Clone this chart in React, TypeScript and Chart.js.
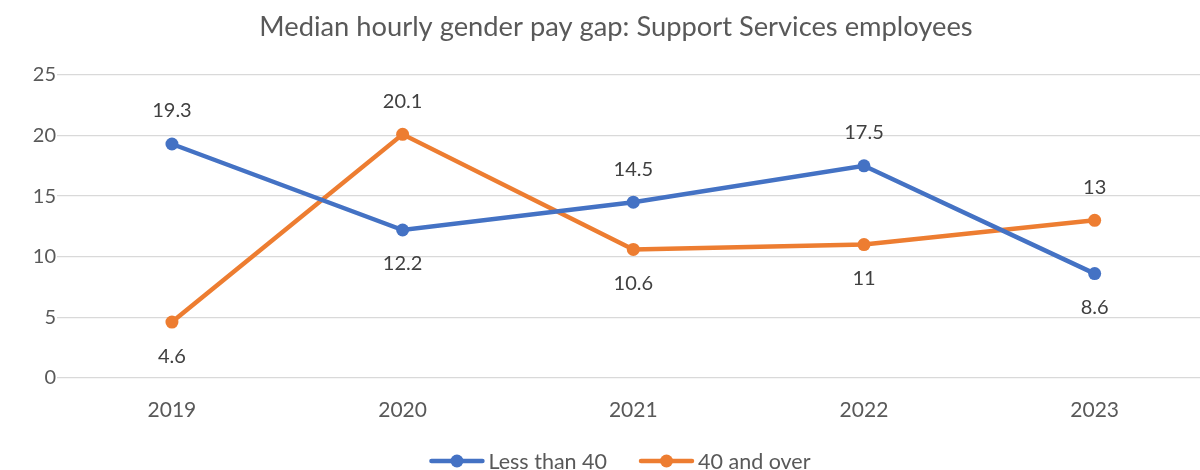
import React, { useEffect, useRef } from "react";
import { Chart, registerables } from "chart.js";

Chart.register(...registerables);

const years = ["2019", "2020", "2021", "2022", "2023"];
const lessThan40 = [19.3, 12.2, 14.5, 17.5, 8.6];
const fortyAndOver = [4.6, 20.1, 10.6, 11, 13];
const lessThan40LabelPos = ["above", "below", "above", "above", "below"];
const fortyAndOverLabelPos = ["below", "above", "below", "below", "above"];
const yTicks = [0, 5, 10, 15, 20, 25];

const FONT = "Lato, 'Liberation Sans', sans-serif";
const BLUE = "#4472C4";
const ORANGE = "#ED7D31";

const dataLabelPlugin = {
  id: "dataLabels",
  afterDatasetsDraw(chart: any) {
    const ctx = chart.ctx;
    ctx.save();
    ctx.font = `20px ${FONT}`;
    ctx.fillStyle = "#404040";
    ctx.textAlign = "center";
    ctx.textBaseline = "middle";
    chart.data.datasets.forEach((ds: any, i: number) => {
      const meta = chart.getDatasetMeta(i);
      meta.data.forEach((pt: any, j: number) => {
        const pos = ds.labelPos[j];
        const dy = pos === "above" ? -33 : 34;
        ctx.fillText(String(ds.data[j]), pt.x, pt.y + dy);
      });
    });
    ctx.restore();
  },
};

const legendPlugin = {
  id: "customLegend",
  afterDraw(chart: any) {
    const ctx = chart.ctx;
    ctx.save();
    ctx.font = `21.5px ${FONT}`;
    const lineW = 55;
    const gapText = 4;
    const gapItems = 32;
    const items = chart.data.datasets.map((ds: any) => ({
      label: ds.label,
      color: ds.borderColor,
      w: lineW + gapText + ctx.measureText(ds.label).width,
    }));
    const total = items.reduce((a: number, it: any) => a + it.w, 0) + gapItems * (items.length - 1);
    let x = 620 - total / 2;
    const y = 461;
    items.forEach((it: any) => {
      ctx.strokeStyle = it.color;
      ctx.lineWidth = 4.5;
      ctx.lineCap = "round";
      ctx.beginPath();
      ctx.moveTo(x + 2, y);
      ctx.lineTo(x + lineW - 2, y);
      ctx.stroke();
      ctx.fillStyle = it.color;
      ctx.beginPath();
      ctx.arc(x + lineW / 2, y, 6.5, 0, Math.PI * 2);
      ctx.fill();
      ctx.fillStyle = "#595959";
      ctx.textAlign = "left";
      ctx.textBaseline = "middle";
      ctx.fillText(it.label, x + lineW + gapText, y + 1);
      x += it.w + gapItems;
    });
    ctx.restore();
  },
};

export default function App() {
  const ref = useRef<HTMLCanvasElement>(null);
  useEffect(() => {
    if (!ref.current) return;
    const chart = new Chart(ref.current, {
      type: "line",
      data: {
        labels: years,
        datasets: [
          {
            label: "Less than 40",
            data: lessThan40,
            labelPos: lessThan40LabelPos,
            borderColor: BLUE,
            backgroundColor: BLUE,
            borderWidth: 4.5,
            pointRadius: 6.5,
            pointHoverRadius: 6.5,
            pointBorderWidth: 0,
            tension: 0,
          } as any,
          {
            label: "40 and over",
            data: fortyAndOver,
            labelPos: fortyAndOverLabelPos,
            borderColor: ORANGE,
            backgroundColor: ORANGE,
            borderWidth: 4.5,
            pointRadius: 6.5,
            pointHoverRadius: 6.5,
            pointBorderWidth: 0,
            tension: 0,
          } as any,
        ],
      },
      options: {
        responsive: false,
        animation: false,
        layout: { padding: { left: 22, right: 22, top: 0, bottom: 35 } },
        plugins: {
          legend: { display: false },
          tooltip: { enabled: false },
          title: {
            display: true,
            text: "Median hourly gender pay gap: Support Services employees",
            color: "#595959",
            font: { family: FONT, size: 27.3, weight: "normal" },
            padding: { top: 10.6, bottom: 31.6 },
          },
        },
        scales: {
          x: {
            offset: true,
            grid: { display: false },
            border: { display: false },
            ticks: {
              color: "#595959",
              font: { family: FONT, size: 21 },
              padding: 12,
            },
          },
          y: {
            min: 0,
            max: 25,
            afterBuildTicks: (s: any) => {
              s.ticks = yTicks.map((v) => ({ value: v }));
            },
            afterFit: (s: any) => {
              s.width = 34.6;
            },
            grid: { color: "#D9D9D9", lineWidth: 1.3, drawTicks: false },
            border: { display: false },
            ticks: {
              color: "#595959",
              font: { family: FONT, size: 20 },
              padding: 0.6,
            },
          },
        },
      },
      plugins: [dataLabelPlugin, legendPlugin],
    });
    return () => chart.destroy();
  }, []);
  return (
    <div
      style={{
        position: "fixed",
        left: 0,
        top: 0,
        width: 1200,
        height: 470,
        overflow: "hidden",
        background: "#fff",
      }}
    >
      <canvas ref={ref} width={1232} height={470} style={{ display: "block" }} />
    </div>
  );
}
